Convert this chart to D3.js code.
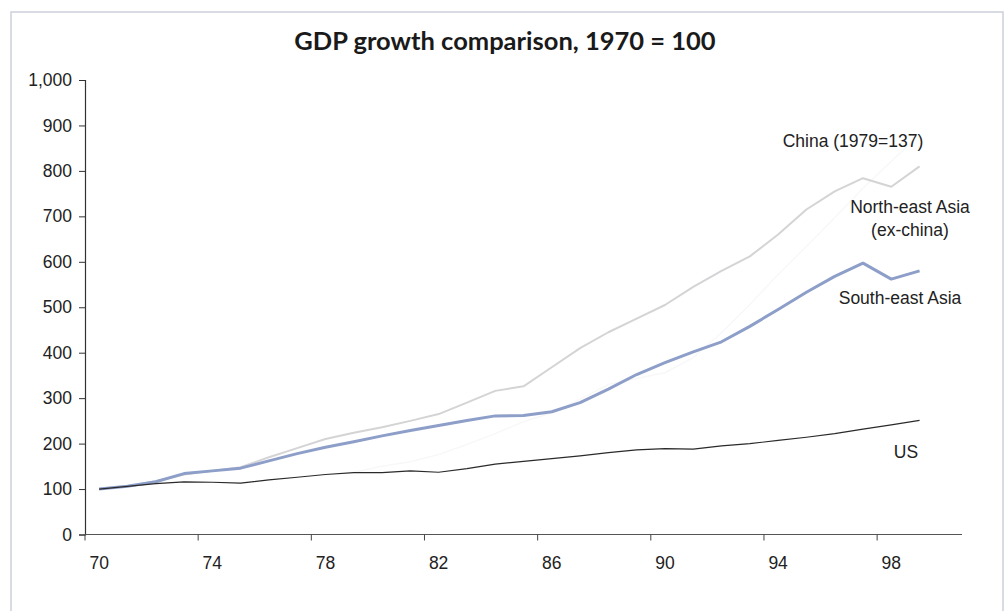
<!DOCTYPE html>
<html>
<head>
<meta charset="utf-8">
<script src="https://cdn.jsdelivr.net/npm/d3@7"></script>
<style>
  html, body { margin: 0; padding: 0; background: #fff; }
  svg { display: block; }
</style>
</head>
<body>
<svg id="chart" width="1006" height="611"></svg>
<script>
// Years on the category axis (1970–2000); data runs to 1999
const years = d3.range(1970, 2001);
const tickYears = [1970, 1974, 1978, 1982, 1986, 1990, 1994, 1998];
const yTicks = [0, 100, 200, 300, 400, 500, 600, 700, 800, 900, 1000];

// GDP index, 1970 = 100 (1970 … 1999)
const northEastAsia = [100, 106, 117, 132, 140, 148, 170, 190, 210, 224,
  236, 250, 265, 290, 316, 326, 368, 410, 445, 475,
  505, 545, 580, 612, 660, 715, 755, 784, 765, 810];
const southEastAsia = [100, 106, 116, 134, 140, 146, 162, 178, 192, 204,
  217, 229, 240, 251, 261, 262, 270, 290, 320, 352,
  378, 402, 424, 458, 495, 533, 568, 597, 562, 580];
const us = [100, 106, 112, 116, 115, 113, 120, 126, 132, 136,
  136, 140, 137, 145, 155, 161, 167, 173, 180, 186,
  189, 188, 195, 200, 207, 214, 222, 232, 241, 251];
// China index starts in 1979 (1979 = 137)
const chinaYears = d3.range(1979, 2000);
const china = [137, 150, 160, 176, 198, 222, 248, 268, 298, 330,
  343, 356, 389, 444, 506, 572, 634, 697, 762, 821, 880];

const svg = d3.select("#chart");

// Outer frame
svg.append("rect")
  .attr("x", 11).attr("y", 12)
  .attr("width", 992).attr("height", 640)
  .attr("fill", "none")
  .attr("stroke", "#cdd0da")
  .attr("stroke-width", 1.5);

// Title
svg.append("text")
  .attr("x", 505).attr("y", 50)
  .attr("text-anchor", "middle")
  .attr("font-family", "Lato, 'Open Sans', sans-serif")
  .attr("font-weight", "bold")
  .attr("font-size", 25.5)
  .attr("fill", "#1a1a1a")
  .text("GDP growth comparison, 1970 = 100");

const plotLeft = 85, plotRight = 962, plotTop = 80, plotBottom = 534.5;

const x = d3.scaleBand()
  .domain(years)
  .range([plotLeft, plotRight])
  .paddingInner(0).paddingOuter(0);
const xc = yr => x(yr) + x.bandwidth() / 2;

const y = d3.scaleLinear().domain([0, 1000]).range([plotBottom, plotTop]);

const font = "'Liberation Sans', Arial, sans-serif";
const fs = 17.5;

// Y axis
const yAxis = svg.append("g")
  .attr("transform", `translate(${plotLeft},0)`)
  .call(d3.axisLeft(y).tickValues(yTicks).tickSize(6).tickPadding(7)
    .tickFormat(d3.format(",")));
yAxis.select(".domain").attr("stroke", "#333").attr("stroke-width", 1.2);
yAxis.selectAll(".tick line").attr("stroke", "#333");
yAxis.selectAll(".tick text")
  .attr("font-family", font).attr("font-size", fs).attr("fill", "#222");

// X axis: ticks on category boundaries, labels centred on categories
const xAxisG = svg.append("g").attr("transform", `translate(0,${plotBottom})`);
xAxisG.append("line")
  .attr("x1", plotLeft).attr("x2", plotRight)
  .attr("stroke", "#555").attr("stroke-width", 1.2);
xAxisG.selectAll("line.tk")
  .data(tickYears)
  .join("line")
  .attr("class", "tk")
  .attr("x1", d => x(d)).attr("x2", d => x(d))
  .attr("y1", 0).attr("y2", 6)
  .attr("stroke", "#444");
xAxisG.selectAll("text")
  .data(tickYears)
  .join("text")
  .attr("x", d => xc(d))
  .attr("y", 34)
  .attr("text-anchor", "middle")
  .attr("font-family", font).attr("font-size", fs).attr("fill", "#222")
  .text(d => String(d).slice(2));

const line = d3.line()
  .x(d => xc(d[0]))
  .y(d => y(d[1]));

const dataYears = d3.range(1970, 2000);
const pairs = arr => dataYears.map((yr, i) => [yr, arr[i]]);

// China (printed very pale)
svg.append("path")
  .datum(chinaYears.map((yr, i) => [yr, china[i]]))
  .attr("d", line)
  .attr("fill", "none")
  .attr("stroke", "#f8f8f8")
  .attr("stroke-width", 1.5);

// North-east Asia (ex-China)
svg.append("path")
  .datum(pairs(northEastAsia))
  .attr("d", line)
  .attr("fill", "none")
  .attr("stroke", "#d4d4d6")
  .attr("stroke-width", 2)
  .attr("stroke-linejoin", "round");

// South-east Asia
svg.append("path")
  .datum(pairs(southEastAsia))
  .attr("d", line)
  .attr("fill", "none")
  .attr("stroke", "#8d9ec9")
  .attr("stroke-width", 3)
  .attr("stroke-linejoin", "round");

// US
svg.append("path")
  .datum(pairs(us))
  .attr("d", line)
  .attr("fill", "none")
  .attr("stroke", "#2a2a2a")
  .attr("stroke-width", 1.2)
  .attr("stroke-linejoin", "round");

// Series labels
const labels = [
  { text: "China (1979=137)", x: 853, y: 147 },
  { text: "North-east Asia", x: 910, y: 213 },
  { text: "(ex-china)", x: 910, y: 236 },
  { text: "South-east Asia", x: 900, y: 304 },
  { text: "US", x: 906, y: 458 }
];
svg.selectAll("text.lbl")
  .data(labels)
  .join("text")
  .attr("class", "lbl")
  .attr("x", d => d.x).attr("y", d => d.y)
  .attr("text-anchor", "middle")
  .attr("font-family", font).attr("font-size", fs).attr("fill", "#222")
  .text(d => d.text);
</script>
</body>
</html>
